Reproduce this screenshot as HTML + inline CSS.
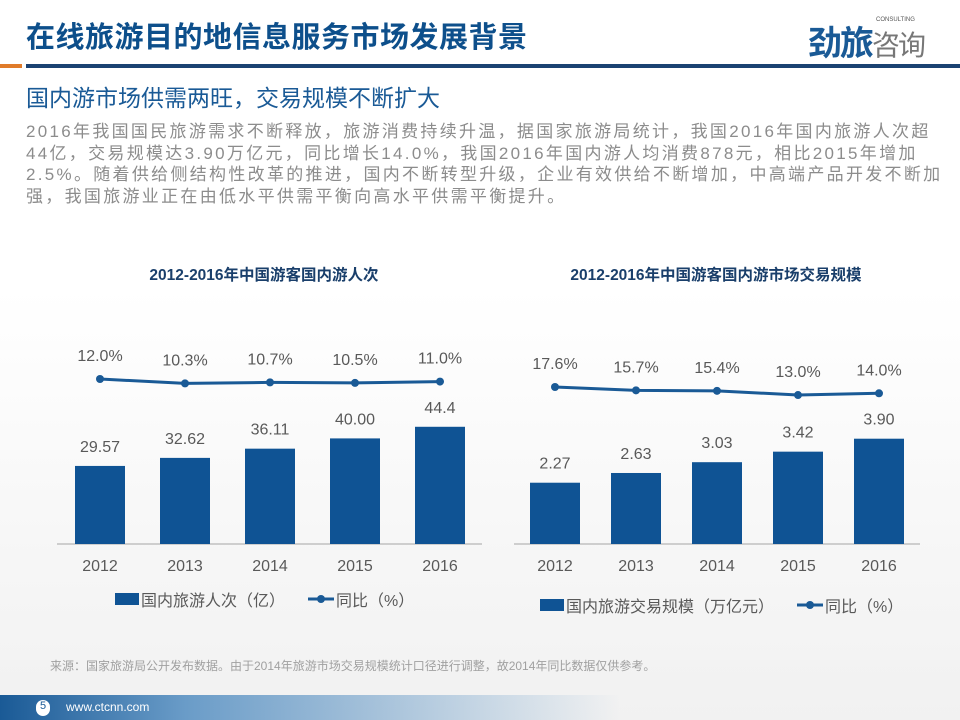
<!DOCTYPE html>
<html><head><meta charset="utf-8">
<style>
body{margin:0;width:960px;height:720px;overflow:hidden;font-family:"Liberation Sans","Noto Sans CJK SC",sans-serif;background:linear-gradient(180deg,#fff 0%,#fff 40%,#f1f1f1 100%);position:relative}
.abs{position:absolute}
</style></head><body>
<div class="abs" style="left:26px;top:14px;font-size:29px;font-weight:bold;color:#0d4f8b;letter-spacing:0.5px">在线旅游目的地信息服务市场发展背景</div>
<div class="abs" style="left:808px;top:16px;font-size:34px;font-weight:bold;color:#1a5a96;letter-spacing:-2px">劲旅<span style="font-size:28px;color:#777;font-weight:normal">咨询</span></div>
<div class="abs" style="left:876px;top:17px;font-size:6px;color:#555">CONSULTING</div>
<div class="abs" style="left:0;top:64px;width:22px;height:4px;background:#e07b2a"></div>
<div class="abs" style="left:26px;top:64px;width:934px;height:4px;background:#1a4272"></div>
<div class="abs" style="left:26px;top:79px;font-size:23px;color:#1a5a96">国内游市场供需两旺，交易规模不断扩大</div>
<div class="abs" style="left:26px;top:121px;white-space:nowrap;font-size:17px;letter-spacing:2.3px;line-height:21.5px;color:#8c8c8c">2016年我国国民旅游需求不断释放，旅游消费持续升温，据国家旅游局统计，我国2016年国内旅游人次超<br>44亿，交易规模达3.90万亿元，同比增长14.0%，我国2016年国内游人均消费878元，相比2015年增加<br>2.5%。随着供给侧结构性改革的推进，国内不断转型升级，企业有效供给不断增加，中高端产品开发不断加<br>强，我国旅游业正在由低水平供需平衡向高水平供需平衡提升。</div>
<div class="abs" style="left:50px;top:657px;font-size:12px;color:#a0a0a0">来源：国家旅游局公开发布数据。由于2014年旅游市场交易规模统计口径进行调整，故2014年同比数据仅供参考。</div>
<div class="abs" style="left:0;top:695px;width:620px;height:25px;background:linear-gradient(90deg,#1a5a96 0%,#6a9cc8 30%,rgba(220,230,240,0) 100%)"></div>
<div class="abs" style="left:66px;top:700px;font-size:12px;color:#fff">www.ctcnn.com</div>
<div class="abs" style="left:36px;top:700px;width:14px;height:16px;border-radius:7px;background:#fff;color:#1a5a96;font-size:11px;text-align:center">5</div>
<svg class="abs" style="left:0;top:0" width="960" height="720" id="chart"></svg>
<script>
const years=["2012","2013","2014","2015","2016"];
const tripVals=[29.57,32.62,36.11,40.00,44.4];
const tripLabels=["29.57","32.62","36.11","40.00","44.4"];
const tripGrowth=[12.0,10.3,10.7,10.5,11.0];
const spendVals=[2.27,2.63,3.03,3.42,3.90];
const spendLabels=["2.27","2.63","3.03","3.42","3.90"];
const spendGrowth=[17.6,15.7,15.4,13.0,14.0];
const NS="http://www.w3.org/2000/svg";
const svg=document.getElementById('chart');
function mk(t,a,p){const e=document.createElementNS(NS,t);for(const k in a)e.setAttribute(k,a[k]);(p||svg).appendChild(e);return e;}
function txt(x,y,s,size,col,anchor,w){const e=mk('text',{x:x,y:y,'font-size':size,fill:col,'text-anchor':anchor||'middle','font-family':'"Liberation Sans","Noto Sans CJK SC",sans-serif','font-weight':w||'normal'});e.textContent=s;return e;}
function drawChart(cfg){
  const g=mk('g',{});
  
  
  const t=txt(cfg.titleX,280,cfg.title,15.5,'#1a3f6b','middle','bold');
  
  
  const base=544;
  const ax=mk('line',{x1:cfg.axL,x2:cfg.axR,y1:base,y2:base,stroke:'#a6a6a6','stroke-width':1});
  
  
  const xs=i=>cfg.x0+i*cfg.step;
  const yb=v=>base-v*cfg.bs;
  const yl=v=>cfg.lineY0+(cfg.lineRef-v)*cfg.ls;
  cfg.vals.forEach((v,i)=>{
    const r=mk('rect',{x:xs(i)-25,y:yb(v),width:50,height:base-yb(v),fill:'#0f5394'});
    
    
    const l=txt(xs(i),yb(v)-14,cfg.labels[i],16,'#595959');
    
    
    const c=txt(xs(i),571,years[i],16,'#595959');
    
    
  });
  const pts=cfg.growth.map((v,i)=>xs(i)+','+yl(v)).join(' ');
  const pl=mk('polyline',{points:pts,fill:'none',stroke:'#1a5a96','stroke-width':3});
  
  
  cfg.growth.forEach((v,i)=>{
    const c=mk('circle',{cx:xs(i),cy:yl(v),r:4,fill:'#1a5a96'});
    
    
    const l=txt(xs(i),yl(v)-18,v.toFixed(1)+'%',16,'#595959');
    
    
  });
  const ly=cfg.legY;
  const lr=mk('rect',{x:cfg.legX,y:ly-13,width:24,height:12,fill:'#0f5394'});
  
  
  const lt=txt(cfg.legX+26,ly,cfg.legBar,16,'#595959','start');
  
  
  const ll=mk('line',{x1:cfg.legX2,x2:cfg.legX2+26,y1:ly-7,y2:ly-7,stroke:'#1a5a96','stroke-width':3});
  
  
  mk('circle',{cx:cfg.legX2+13,cy:ly-7,r:4,fill:'#1a5a96'});
  const lt2=txt(cfg.legX2+28,ly,'同比（%）',16,'#595959','start');
  
  
}
drawChart({name:'trips-chart',title:'2012-2016年中国游客国内游人次',titleX:264,axL:57,axR:482,x0:100,step:85,vals:tripVals,labels:tripLabels,bs:2.64,growth:tripGrowth,lineY0:379,lineRef:12.0,ls:2.6,legX:115,legX2:308,legY:606,legBar:'国内旅游人次（亿）'});
drawChart({name:'spend-chart',title:'2012-2016年中国游客国内游市场交易规模',titleX:716,axL:514,axR:920,x0:555,step:81,vals:spendVals,labels:spendLabels,bs:27,growth:spendGrowth,lineY0:387,lineRef:17.6,ls:1.75,legX:540,legX2:797,legY:612,legBar:'国内旅游交易规模（万亿元）'});
</script>
</body></html>
